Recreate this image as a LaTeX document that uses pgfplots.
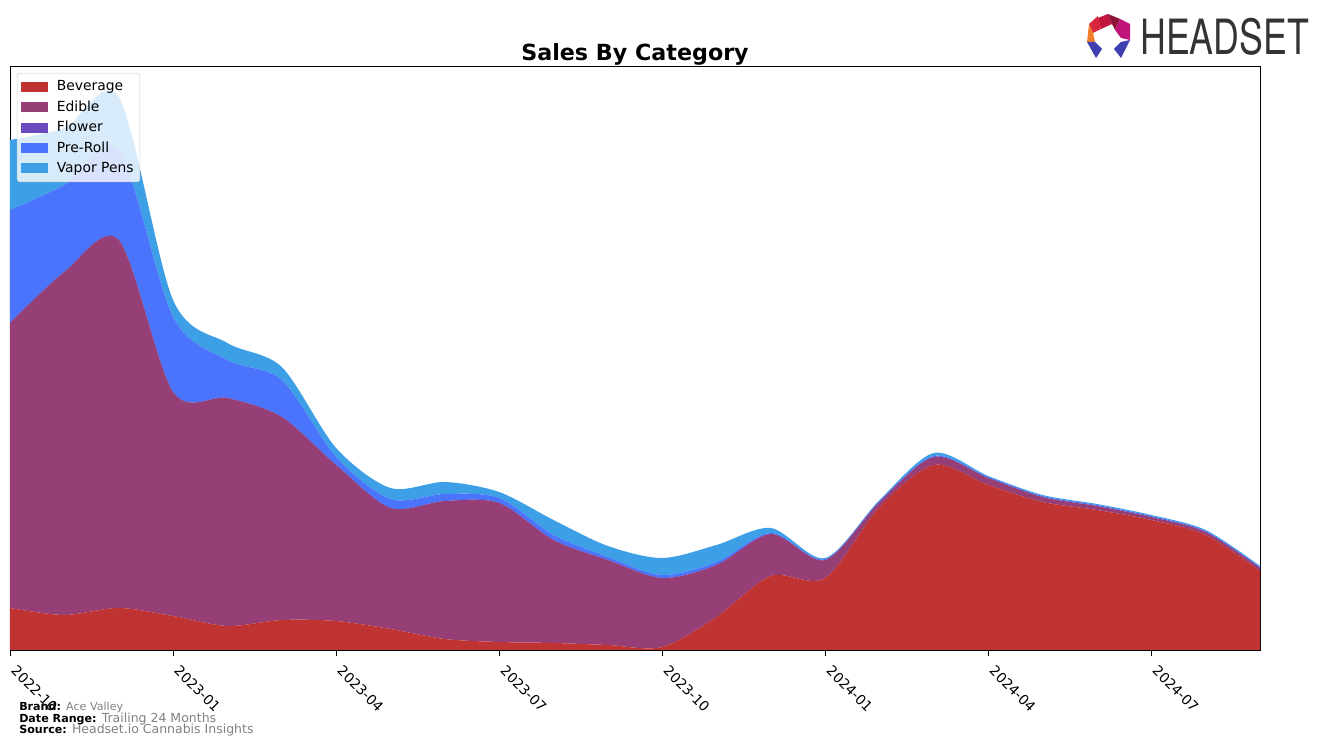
\documentclass[border=0pt]{standalone}
\usepackage{pgfplots}
\pgfplotsset{compat=1.18}
\usepackage{pgfplotstable}
\usepackage{fontspec}
\setmainfont{DejaVu Sans}
\newfontfamily\logofont{TeX Gyre Heros}
\definecolor{cBev}{HTML}{C03333}
\definecolor{cEdi}{HTML}{953F76}
\definecolor{cFlo}{HTML}{6A4BBF}
\definecolor{cPre}{HTML}{4A74FB}
\definecolor{cVap}{HTML}{3D9FE6}
\definecolor{footgray}{HTML}{808080}
\definecolor{lt}{HTML}{C0163F}
\definecolor{lr}{HTML}{D7263D}
\definecolor{lo}{HTML}{F07D2A}
\definecolor{lm}{HTML}{C0147A}
\definecolor{lb}{HTML}{3F3FB0}
\definecolor{ld}{HTML}{8B1538}
\pgfplotstableread{
x bev edi flo pre vap
0 42 285 0 113 70
1 35 343 0 87 57
2 42 368 0 90 53
3 34 224 0 75 17
4 24 228 0 38 17
5 30 203 0 37 13
6 29 156 0 8 9
7 21 121 0 9 11
8 11 138 0 7 12
9 8 139 0 5 6
10 7 103 0 5 15
11 5 85 0 3 11
12 3 69 0 3 17
13 33 52 0 3 17
14 74 42 0 1 5
15 72 18 0 1 1
16 143 5 0 1 1
17 185 8 0 1 3
18 165 7 0 1 1
19 148 5 0 1 1
20 140 4 0 1 1
21 130 3 0 1 1
22 115 3 0 1 1
23 79 3 0 1 1
}\datatable
\begin{document}
\begin{tikzpicture}[x=0.72pt,y=0.72pt]
\path[use as bounding box] (0,0) rectangle (1324,746);
\begin{axis}[
  at={(7.2pt,69.12pt)}, anchor=south west,
  width=900pt, height=420.48pt, scale only axis,
  xmin=0, xmax=23, ymin=0, ymax=584,
  stack plots=y,
  axis line style={line width=0.6pt},
  ytick=\empty,
  xtick={0,3,6,9,12,15,18,21},
  xticklabels={2022-10,2023-01,2023-04,2023-07,2023-10,2024-01,2024-04,2024-07},
  xticklabel style={rotate=-45, anchor=north west, font=\fontsize{10}{12}\selectfont, inner sep=1pt, xshift=7.1pt, yshift=0.7pt},
  tick align=outside, major tick length=4.3pt,
  x tick style={line width=0.6pt, black},
  xtick pos=bottom,
  legend cell align=left,
  legend style={at={(0,1)}, anchor=north west, xshift=5pt, yshift=-5pt,
    fill=white, fill opacity=0.8, text opacity=1, draw=black!20, rounded corners=2pt,
    font=\fontsize{10}{14}\selectfont, inner xsep=2.5pt, inner ysep=3.5pt, row sep=1.6pt},
  legend image code/.code={\fill[#1, fill opacity=1, sharp corners] (0pt,-3.6pt) rectangle (20pt,3.6pt); \path (24pt,0pt);},
]
\addplot[fill=cBev, draw=none, smooth] table[x=x,y=bev]{\datatable} \closedcycle;
\addlegendentry{Beverage}
\addplot[fill=cEdi, draw=none, smooth] table[x=x,y=edi]{\datatable} \closedcycle;
\addlegendentry{Edible}
\addplot[fill=cFlo, draw=none, smooth] table[x=x,y=flo]{\datatable} \closedcycle;
\addlegendentry{Flower}
\addplot[fill=cPre, draw=none, smooth] table[x=x,y=pre]{\datatable} \closedcycle;
\addlegendentry{Pre-Roll}
\addplot[fill=cVap, draw=none, smooth] table[x=x,y=vap]{\datatable} \closedcycle;
\addlegendentry{Vapor Pens}
\end{axis}
\node[font=\bfseries\fontsize{16}{19}\selectfont] at (635,692) {Sales By Category};
% footer
\node[anchor=west, inner sep=0pt, font=\bfseries\fontsize{8}{9}\selectfont] at (19,38.5) {Brand: \mdseries\color{footgray}Ace Valley};
\node[anchor=west, inner sep=0pt] at (19,26.5) {\fontsize{8}{9}\selectfont\bfseries Date Range: \fontsize{9}{10}\selectfont\mdseries\color{footgray} Trailing 24 Months};
\node[anchor=west, inner sep=0pt] at (19,15.5) {\fontsize{8}{9}\selectfont\bfseries Source: \fontsize{9}{10}\selectfont\mdseries\color{footgray} Headset.io Cannabis Insights};
% logo
\fill[lt] (1098,728) -- (1108,732) -- (1112,722) -- (1101,717) -- cycle;
\fill[lr] (1089,722) -- (1098,730) -- (1101,717) -- (1093,713) -- cycle;
\fill[ld] (1108,732) -- (1120,727) -- (1115,716) -- (1112,722) -- cycle;
\fill[lm] (1120,727) -- (1130,722) -- (1130,706) -- (1121,708) -- (1115,716) -- cycle;
\fill[lo] (1089,722) -- (1093,713) -- (1095,704) -- (1087,704) -- cycle;
\fill[lb] (1087,704) -- (1095,704) -- (1102,697) -- (1096,688) -- cycle;
\fill[lb] (1130,706) -- (1121,704) -- (1114,697) -- (1121,688) -- cycle;
\node[anchor=west, inner sep=0pt, text=black!80, font=\logofont\fontsize{35}{36}\selectfont, xscale=0.735] at (1140,709) {HEADSET};
\end{tikzpicture}
\end{document}
